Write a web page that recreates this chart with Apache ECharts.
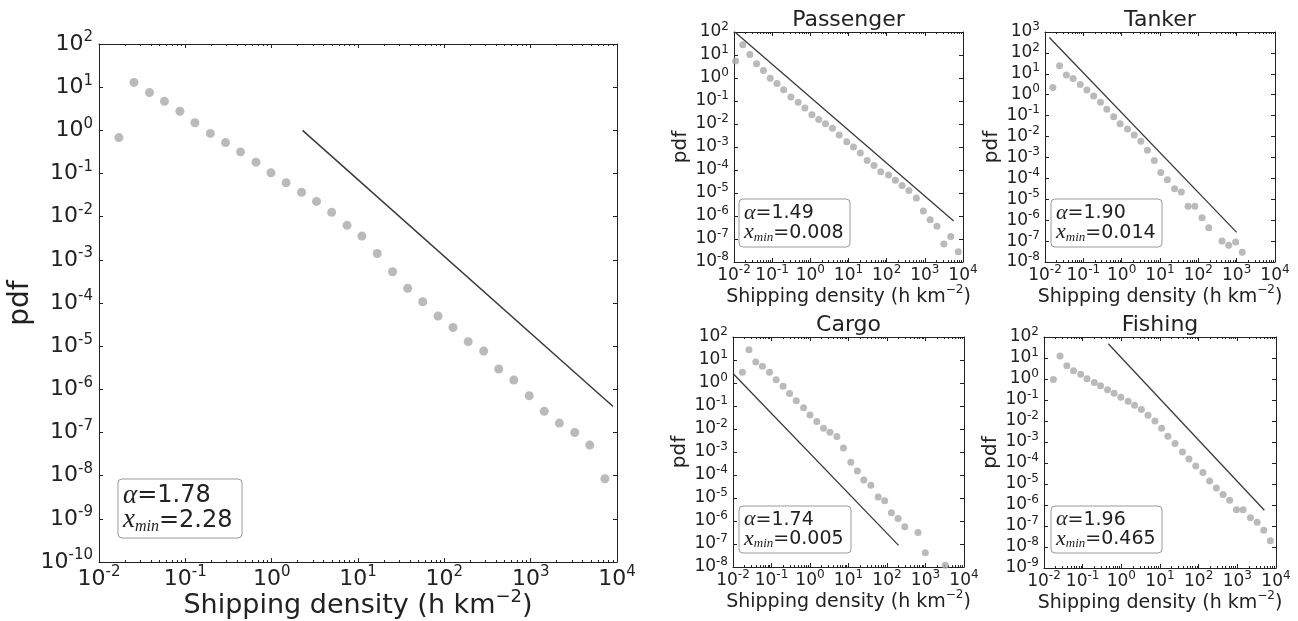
<!DOCTYPE html>
<html>
<head>
<meta charset="utf-8">
<script src="https://cdn.jsdelivr.net/npm/echarts@6.0.0/dist/echarts.min.js"></script>
<style>
html, body { margin: 0; padding: 0; background: #fff; }
#chart { width: 1298px; height: 621px; }
</style>
</head>
<body>
<div id="chart"></div>
<script>
// all vessels
var allX = [0.017, 0.0254, 0.0384, 0.0573, 0.0865, 0.129, 0.195, 0.292, 0.436, 0.658, 0.98, 1.47, 2.22, 3.31, 4.95, 7.46, 11.1, 16.7, 25.1, 37.6, 56.2, 84.5, 126, 189, 286, 427, 638, 962, 1438, 2150, 3240, 4840, 7240];
var allY = [0.68, 12.9, 7.5, 4.7, 2.77, 1.5, 0.85, 0.52, 0.316, 0.183, 0.1035, 0.061, 0.0368, 0.0226, 0.0126, 0.0063, 0.00355, 0.0014, 0.00053, 0.00022, 1.07e-4, 5.0e-5, 2.7e-5, 1.27e-5, 7.7e-6, 2.96e-6, 1.65e-6, 7.1e-7, 3.1e-7, 1.65e-7, 1.0e-7, 5.1e-8, 8.5e-9];
var allFitX = [2.28, 9000];
var allFitY = [1.0, 4.0e-7];

var passengerX = [0.011, 0.017, 0.026, 0.039, 0.059, 0.089, 0.134, 0.2, 0.31, 0.48, 0.72, 1.1, 1.66, 2.5, 3.8, 5.7, 9, 13.5, 20.4, 30.9, 46.6, 70, 112, 169, 254, 383, 600, 912, 1380, 2080, 3150, 4770, 7500];
var passengerY = [5.5, 28, 10.5, 4.2, 2.1, 0.98, 0.58, 0.31, 0.148, 0.088, 0.05, 0.025, 0.0158, 0.0103, 0.0065, 0.0033, 0.0017, 0.001, 5.5e-4, 2.6e-4, 1.58e-4, 8.3e-5, 6e-5, 3.6e-5, 2.1e-5, 1.28e-5, 6.1e-6, 1.67e-6, 6.9e-7, 3.6e-7, 6e-8, 1.3e-7, 2.8e-8];
var passengerFitX = [0.0105, 5700];
var passengerFitY = [100, 6e-7];

var tankerX = [0.016, 0.024, 0.036, 0.054, 0.083, 0.124, 0.186, 0.28, 0.41, 0.62, 0.91, 1.42, 2.13, 3.16, 4.7, 7.1, 10.5, 15.6, 24, 36, 54, 81, 125, 187, 415, 620, 940, 1400];
var tankerY = [2.2, 24, 8.7, 6, 3.1, 1.7, 0.88, 0.44, 0.2, 0.089, 0.041, 0.023, 0.0118, 0.0059, 0.0022, 7.2e-4, 1.9e-4, 8.5e-5, 3.2e-5, 2.2e-5, 4.6e-6, 4.6e-6, 1.3e-6, 4.4e-7, 1e-7, 6.3e-8, 9e-8, 2.9e-8];
var tankerFitX = [0.013, 1000];
var tankerFitY = [550, 2.6e-7];

var cargoX = [0.0175, 0.026, 0.039, 0.058, 0.089, 0.132, 0.2, 0.295, 0.44, 0.68, 1.0, 1.5, 2.25, 3.3, 5, 7.4, 11.5, 17, 25, 38, 59, 87, 130, 194, 290, 640, 990, 3260];
var cargoY = [2.9, 28, 8.1, 5.3, 2.9, 1.4, 0.72, 0.35, 0.17, 0.083, 0.041, 0.021, 0.0107, 0.0072, 0.0047, 0.0015, 3.6e-4, 1.5e-4, 6e-5, 3.6e-5, 1.1e-5, 7.6e-6, 2.3e-6, 1.3e-6, 5.6e-7, 3.2e-7, 4.2e-8, 1.2e-8];
var cargoFitX = [0.01, 200];
var cargoFitY = [2.6, 8.7e-8];

var fishingX = [0.0175, 0.026, 0.039, 0.058, 0.089, 0.13, 0.2, 0.29, 0.44, 0.65, 0.97, 1.5, 2.2, 3.3, 4.9, 7.4, 11, 16, 24.5, 38, 56, 84, 129, 192, 287, 428, 634, 950, 1410, 2180, 3250, 4820, 7150];
var fishingY = [0.95, 12.5, 4.3, 2.5, 1.67, 1.04, 0.69, 0.48, 0.31, 0.21, 0.134, 0.087, 0.056, 0.035, 0.019, 0.01, 0.0045, 0.0019, 8.4e-4, 3.3e-4, 1.55e-4, 7.2e-5, 3.5e-5, 1.4e-5, 6.4e-6, 3.2e-6, 1.67e-6, 6e-7, 6e-7, 2.5e-7, 1.5e-7, 6.2e-8, 2e-8];
var fishingFitX = [0.46, 5000];
var fishingFitY = [48, 5.6e-7];

var FONT = "DejaVu Sans";
var MATH = "Liberation Serif";

var panels = [
  { title: "", xs: allX, ys: allY, fx: allFitX, fy: allFitY, yMin: 1e-10, yMax: 1e2, alpha: "1.78", xmin: "2.28",
    grid: { left: 99, top: 44, width: 518, height: 518 }, box: [118, 479, 124, 59], big: true },
  { title: "Passenger", xs: passengerX, ys: passengerY, fx: passengerFitX, fy: passengerFitY, yMin: 1e-8, yMax: 1e2, alpha: "1.49", xmin: "0.008",
    grid: { left: 734, top: 32, width: 229, height: 230 }, box: [739, 199, 111, 48] },
  { title: "Tanker", xs: tankerX, ys: tankerY, fx: tankerFitX, fy: tankerFitY, yMin: 1e-8, yMax: 1e3, alpha: "1.90", xmin: "0.014",
    grid: { left: 1045, top: 32, width: 230, height: 230 }, box: [1051, 199, 111, 48] },
  { title: "Cargo", xs: cargoX, ys: cargoY, fx: cargoFitX, fy: cargoFitY, yMin: 1e-8, yMax: 1e2, alpha: "1.74", xmin: "0.005",
    grid: { left: 733, top: 337, width: 231, height: 230 }, box: [739, 506, 112, 47] },
  { title: "Fishing", xs: fishingX, ys: fishingY, fx: fishingFitX, fy: fishingFitY, yMin: 1e-9, yMax: 1e2, alpha: "1.96", xmin: "0.465",
    grid: { left: 1044, top: 337, width: 232, height: 231 }, box: [1051, 506, 111, 47] }
];

function tickLabel(v) {
  var e = Math.round(Math.log10(v));
  return "{b|10}{s|" + e + "}";
}

function pairs(xs, ys) {
  return xs.map(function (x, i) { return [x, ys[i]]; });
}

var chart = echarts.init(document.getElementById("chart"));
var grid = [], xAxis = [], yAxis = [], series = [], graphic = [];

panels.forEach(function (p, i) {
  var big = !!p.big;
  var fs = big ? 22 : 17;
  var sfs = big ? 15 : 12;
  var nameFs = big ? 27 : 19;
  var rich = {
    b: { fontSize: fs, fontFamily: FONT, color: "#222", lineHeight: fs + 6 },
    s: { fontSize: sfs, fontFamily: FONT, color: "#222", lineHeight: sfs, verticalAlign: "top" }
  };
  var axisLine = { show: true, lineStyle: { color: "#222", width: 1 } };
  var tick = { show: true, inside: true, length: 4, lineStyle: { color: "#222" } };
  var minor = { show: true, splitNumber: 9, length: 2, lineStyle: { color: "#222" } };

  grid.push(Object.assign({ outerBoundsMode: "none", containLabel: false }, p.grid));

  xAxis.push({
    type: "log", logBase: 10, gridIndex: i, min: 0.01, max: 10000, interval: 1,
    axisLine: axisLine, axisTick: tick, minorTick: minor, splitLine: { show: false },
    axisLabel: { formatter: tickLabel, rich: rich, margin: big ? 3 : 2 },
    name: "{n|Shipping density (h km}{s|\u22122}{n|)}", nameLocation: "middle",
    nameGap: big ? 26 : 22, nameMoveOverlap: false,
    nameTextStyle: { fontSize: nameFs, fontFamily: FONT, color: "#222",
      rich: {
        n: { fontSize: nameFs, fontFamily: FONT, color: "#222", lineHeight: nameFs + 8 },
        s: { fontSize: Math.round(nameFs * 0.65), fontFamily: FONT, color: "#222", verticalAlign: "top", lineHeight: Math.round(nameFs * 0.65) }
      } }
  });
  xAxis.push({
    type: "log", logBase: 10, gridIndex: i, min: 0.01, max: 10000, interval: 1, position: "top",
    axisLine: axisLine, axisTick: tick, minorTick: minor, splitLine: { show: false },
    axisLabel: { show: false },
    name: p.title, nameLocation: "middle", nameGap: 1, nameMoveOverlap: false,
    nameTextStyle: { fontSize: 22, fontFamily: FONT, color: "#222", verticalAlign: "bottom" }
  });
  yAxis.push({
    type: "log", logBase: 10, gridIndex: i, min: p.yMin, max: p.yMax, interval: 1,
    axisLine: axisLine, axisTick: tick, splitLine: { show: false },
    axisLabel: { formatter: tickLabel, rich: rich, margin: big ? 6 : 5 },
    name: "pdf", nameLocation: "middle", nameRotate: 90, nameGap: big ? 64 : 43, nameMoveOverlap: false,
    nameTextStyle: { fontSize: big ? 28 : 20, fontFamily: FONT, color: "#222" }
  });
  yAxis.push({
    type: "log", logBase: 10, gridIndex: i, min: p.yMin, max: p.yMax, interval: 1, position: "right",
    axisLine: axisLine, axisTick: tick, splitLine: { show: false },
    axisLabel: { show: false }
  });

  series.push({
    type: "scatter", xAxisIndex: 2 * i, yAxisIndex: 2 * i,
    data: pairs(p.xs, p.ys), symbolSize: big ? 9 : 7,
    itemStyle: { color: "#a9a9a9" }, silent: true, z: 2
  });
  series.push({
    type: "line", xAxisIndex: 2 * i, yAxisIndex: 2 * i,
    data: pairs(p.fx, p.fy), symbol: "none", clip: true,
    lineStyle: { color: "#3a3a3a", width: big ? 1.5 : 1.3 }, silent: true, z: 3
  });

  var b = p.box;
  var lfs = big ? 24 : 19;
  var lrich = {
    g: { fontFamily: MATH, fontStyle: "italic", fontSize: lfs + 3, fill: "#222" },
    t: { fontFamily: FONT, fontSize: lfs, fill: "#222" },
    sub: { fontFamily: MATH, fontStyle: "italic", fontSize: Math.round(lfs * 0.68), fill: "#222", verticalAlign: "bottom", padding: [Math.round(lfs * 0.55), 0, 0, 0] }
  };
  graphic.push({
    type: "rect", z: 10,
    shape: { x: b[0], y: b[1], width: b[2], height: b[3], r: 4 },
    style: { fill: "#fff", stroke: "#9a9a9a", lineWidth: 1 }
  });
  graphic.push({
    type: "text", z: 11, x: b[0] + 5, y: b[1] + b[3] * 0.29,
    style: { text: "{g|\u03b1}{t|=" + p.alpha + "}", rich: lrich, verticalAlign: "middle" }
  });
  graphic.push({
    type: "text", z: 11, x: b[0] + 5, y: b[1] + b[3] * 0.7,
    style: { text: "{g|x}{sub|min}{t|=" + p.xmin + "}", rich: lrich, verticalAlign: "middle" }
  });
});

chart.setOption({
  animation: false,
  backgroundColor: "#fff",
  textStyle: { fontFamily: FONT },
  grid: grid,
  xAxis: xAxis,
  yAxis: yAxis,
  series: series,
  graphic: graphic
});
</script>
</body>
</html>
